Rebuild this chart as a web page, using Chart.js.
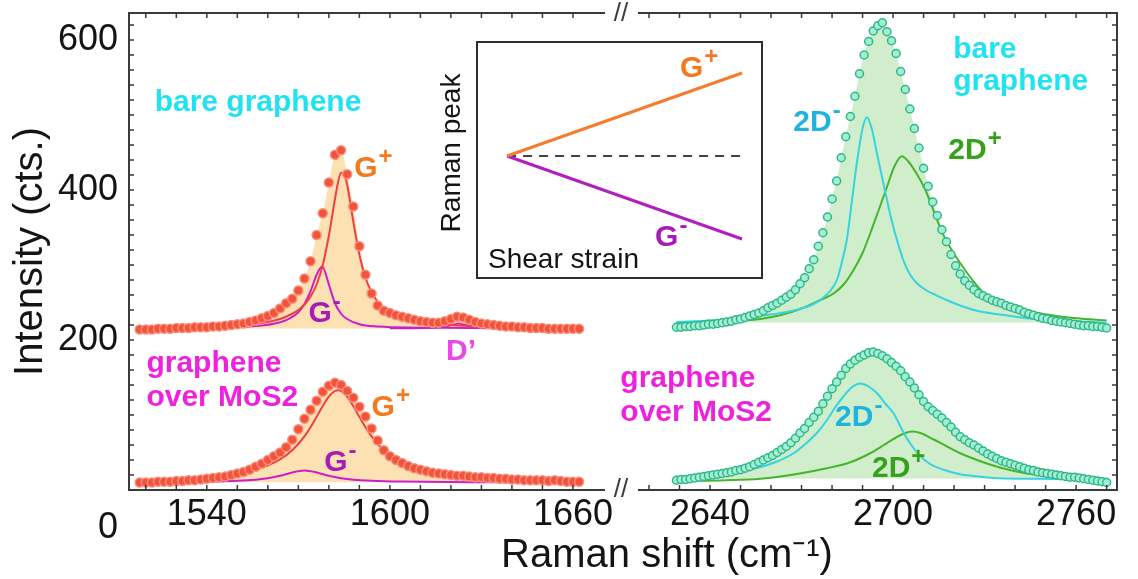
<!DOCTYPE html>
<html>
<head>
<meta charset="utf-8">
<title>Raman G and 2D bands: bare graphene vs graphene over MoS2</title>
<script src="https://cdn.jsdelivr.net/npm/chart.js@4.4.1/dist/chart.umd.min.js"></script>
<style>
  body { margin: 0; background: #fff; }
  #wrap { position: relative; width: 1138px; height: 579px; overflow: hidden; }
  #wrap canvas { position: absolute; }
  #left { left: 0; top: 0; }
  #right { left: 620px; top: 0; }
  #inset { left: 430px; top: 30px; }
</style>
</head>
<body>
<div id="wrap">
  <canvas id="left" width="1138" height="579"></canvas>
  <canvas id="right" width="518" height="579"></canvas>
  <canvas id="inset" width="340" height="262"></canvas>
</div>
<script>
// ---------- data ----------

// G band (left panel), measured points
const leftDotX = [1518,1520,1522,1524,1526,1528,1530,1532,1534,1536,
  1538,1540,1542,1544,1546,1548,1550,1552,1554,1556,
  1558,1560,1562,1564,1566,1568,1570,1572,1574,1576,
  1578,1580,1582,1584,1586,1588,1590,1592,1594,1596,
  1598,1600,1602,1604,1606,1608,1610,1612,1614,1616,
  1618,1620,1622,1624,1626,1628,1630,1632,1634,1636,
  1638,1640,1642,1644,1646,1648,1650,1652,1654,1656,
  1658,1660,1662];
const bareGDots = [214,214,214,215,215,215,216,216,216,217,
  217,217,218,218,219,220,221,222,224,226,
  229,232,236,242,249,255,266,282,305,340,
  369,410,447,453,421,378,325,287,262,246,
  239,236,233,231,229,227,225,224,223,223,
  225,228,231,230,227,224,222,221,220,219,
  218,218,217,217,216,216,216,215,215,215,
  215,215,215];
const mosGDots = [10,10,10,11,11,11,12,12,13,13,
  14,15,16,17,18,20,22,24,27,31,
  35,40,45,50,57,67,81,95,107,119,
  131,139,143,140,132,123,111,98,82,66,
  53,45,40,36,32,29,27,25,23,22,
  21,20,19,19,18,17,17,16,16,15,
  15,14,14,13,13,13,13,12,13,12,
  11,11,11];

// G band fit components
const bareGPlusX = [1518,1530,1540,1550,1556,1560,1564,1568,1570,1572,1574,1576,1578,1580,1582,1583,1584,1585,1586,1588,1590,1592,1594,1596,1600,1604,1610,1620,1630,1640,1662];
const bareGPlusY = [216,217,218,220,222,224,228,235,240,247,258,274,300,339,388,410,423,421,407,358,314,283,264,251,237,229,224,220,218,217,216];
const bareGMinusX = [1518,1540,1556,1562,1566,1570,1572,1574,1576,1577.8,1580,1582,1584,1586,1590,1596,1610,1640,1662];
const bareGMinusY = [215.5,216.3,218.7,221.7,226.4,237,248,265,287,298,274,249,235,228,221,218,216.5,215.5,215.3];
const bareDPrimeX = [1600,1610,1616,1619,1621,1622.5,1624,1626,1629,1635,1645];
const bareDPrimeY = [215.5,216,217,218.7,220.6,222,220.6,218.7,217,216,215.5];
const mosGPlusX = [1518,1530,1540,1550,1556,1560,1564,1568,1572,1575,1578,1580,1582,1583,1584,1586,1588,1591,1594,1598,1602,1606,1610,1616,1626,1636,1648,1662];
const mosGPlusY = [13.4,15.1,17.5,22.3,27.5,32.9,40.9,53,71.5,90.4,111.9,124.5,132,133,132,124.5,111.9,90.4,71.5,53,40.9,32.9,27.5,22.3,17.5,15.1,13.4,12.3];
const mosGMinusX = [1518,1540,1550,1556,1560,1564,1568,1572,1576,1580,1584,1588,1594,1604,1626,1662];
const mosGMinusY = [10.4,11.2,12.3,13.8,15.8,18.9,23.4,26,23.4,18.9,15.8,13.8,12.3,11.2,10.4,10.2];

// 2D band (right panel), measured points
const rightDotX = [2629,2630.5,2632,2633.5,2635,2636.5,2638,2639.5,2641,2642.5,
  2644,2645.5,2647,2648.5,2650,2651.5,2653,2654.5,2656,2657.5,
  2659,2660.5,2662,2663.5,2665,2666.5,2668,2669.5,2671,2672.5,
  2674,2675.5,2677,2678.5,2680,2681.5,2683,2684.5,2686,2687.5,
  2689,2690.5,2692,2693.5,2695,2696.5,2698,2699.5,2701,2702.5,
  2704,2705.5,2707,2708.5,2710,2711.5,2713,2714.5,2716,2717.5,
  2719,2720.5,2722,2723.5,2725,2726.5,2728,2729.5,2731,2732.5,
  2734,2735.5,2737,2738.5,2740,2741.5,2743,2744.5,2746,2747.5,
  2749,2750.5,2752,2753.5,2755,2756.5,2758,2759.5,2761,2762.5,
  2764,2765.5,2767,2768.5,2770];
const bare2DDots = [217,217,218,218,219,219,220,221,221,222,
  223,224,225,227,228,230,232,234,236,239,
  243,246,249,253,257,261,267,275,283,295,
  307,325,343,364,388,412,443,471,498,525,
  555,580,598,612,619,623,611,599,582,558,
  534,508,482,456,429,405,384,366,347,331,
  314,299,288,279,273,267,262,259,256,253,
  251,249,246,244,242,240,237,235,233,231,
  229,228,226,225,224,223,222,221,220,219,
  219,218,218,217,216];
const mos2DDots = [13,14,14,15,16,17,18,19,20,21,
  22,23,24,26,27,29,31,34,37,40,
  43,46,50,54,58,63,69,76,82,90,
  97,105,115,125,135,144,153,162,168,173,
  177,180,183,184,182,179,175,170,165,159,
  151,144,136,127,118,111,106,101,96,90,
  84,77,71,67,63,60,56,52,48,45,
  42,39,37,35,33,31,29,27,26,24,
  23,22,21,20,19,18,17,17,16,15,
  14,13,12,11,10];

// 2D band fit components
const bare2DMinusX = [2629,2640,2650,2660,2666,2670,2674,2677,2679.5,2681.6,2683,2684.9,2686.5,2688.2,2690,2691.4,2693,2694.7,2696.5,2698,2699.5,2701.3,2703.5,2705.6,2708,2711,2714,2717.7,2722,2727.5,2735,2743.9,2755,2770];
const bare2DMinusY = [224,226,229,234,238,242,248,256,266,280,300,335,385,438,482,497,482,449,415,387,360,333,305,287,275,266,260,253,246,239,234,229,226,223];
const bare2DPlusX = [2629,2640,2650,2656.5,2663,2670,2676,2680.5,2684,2687,2690,2692.5,2695,2698,2700.5,2702.9,2705,2708,2710.6,2713.5,2716.3,2719.5,2722.8,2726,2729.4,2733,2738,2745,2752,2760,2770];
const bare2DPlusY = [223,224,226,228,233,242,253,262,275,293,316,342,370,404,432,445,438,420,400,370,342,318,298,280,264,254,246,238,233,229,226];
const mos2DMinusX = [2629,2640,2650,2656,2662,2667.4,2672,2675,2678.3,2681,2684,2686.5,2689.2,2692,2695,2697.5,2700.2,2703,2705.6,2709,2712,2716.5,2722,2728,2733,2745,2770];
const mos2DMinusY = [17,20,25,30,38,49,64,76,93,110,126,137,142,138,128,115,102,80,62,45,35,27,21,18,16,15,14];
const mos2DPlusX = [2629,2645,2656.5,2668,2678.3,2686,2692.5,2697,2701,2704,2706.2,2709,2713,2717.7,2722,2727.5,2735,2743.9,2752,2765,2770];
const mos2DPlusY = [12,13,15,21,29,37,49,60,70,76,78,76,68,58,49,40,30,22,19,16,15];

// inset: peak position vs shear strain (schematic)
const insetStrain = [0, 1];
const insetGPlus = [0, 1];
const insetGMinus = [0, -1];
const insetRefStrain = [0, 1.017];
const insetRef = [0, 0];

// axis labels
const xLeftLabels = [1540, 1600, 1660];
const xRightLabels = [2640, 2700, 2760];
const yLabels = [200, 400, 600];
const yMinorStep = 20;

// ---------- style ----------
const FONT = '"Liberation Sans", Arial, Helvetica, sans-serif';
const AXIS = '#3a3a3a';
const TEXT = '#141414';
const RED_DOT = '#f4533b', RED_EDGE = '#f88f7c';
const MINT_DOT = '#a6eed2', MINT_EDGE = '#2db88c';
const RED_LINE = '#ee4040', MAG_LINE = '#c91fcc';
const CYAN_LINE = '#38d3e0', GREEN_LINE = '#44b52c';
const ORANGE_FILL = '#fde1b3', GREEN_FILL = '#d0eecb';
const CYAN_TXT = '#21e2f0', MAGENTA_TXT = '#ee22dd', ORANGE_TXT = '#f5791f';
const PURPLE_TXT = '#a51db5', PINK_TXT = '#e94ae6', BLUE_TXT = '#1fb4de', GREEN_TXT = '#36a11a';

// labels placed in data coordinates of each panel
const leftNotes = [
  { text: 'bare graphene', x: 1522.9, y: 516, color: CYAN_TXT },
  { text: 'G', sup: '+', x: 1588.3, y: 429, color: ORANGE_TXT },
  { text: 'G', sup: '-', x: 1573.3, y: 235, color: PURPLE_TXT },
  { text: 'D\u2019', x: 1618.4, y: 184, color: PINK_TXT },
  { text: 'graphene', x: 1520.2, y: 169, color: MAGENTA_TXT },
  { text: 'over MoS2', x: 1520.2, y: 123, color: MAGENTA_TXT },
  { text: 'G', sup: '+', x: 1594, y: 110, color: ORANGE_TXT },
  { text: 'G', sup: '-', x: 1578.5, y: 37, color: PURPLE_TXT }
];
const rightNotes = [
  { text: 'bare', x: 2719.7, y: 587, color: CYAN_TXT },
  { text: 'graphene', x: 2719.7, y: 545, color: CYAN_TXT },
  { text: '2D', sup: '-', x: 2667.3, y: 490, color: BLUE_TXT },
  { text: '2D', sup: '+', x: 2718.1, y: 453, color: GREEN_TXT },
  { text: 'graphene', x: 2610.6, y: 149, color: MAGENTA_TXT },
  { text: 'over MoS2', x: 2610.6, y: 103, color: MAGENTA_TXT },
  { text: '2D', sup: '-', x: 2681, y: 97, color: BLUE_TXT },
  { text: '2D', sup: '+', x: 2693.1, y: 29, color: GREEN_TXT }
];
const insetNotes = [
  { text: 'G', sup: '+', x: 0.736, y: 1.05, color: ORANGE_TXT },
  { text: 'G', sup: '-', x: 0.63, y: -0.98, color: PURPLE_TXT }
];

// ---------- helpers ----------
function pts(xs, ys) { return xs.map((x, i) => ({ x: x, y: ys[i] })); }

function dotSet(xs, ys, face, edge, r) {
  return { data: pts(xs, ys), showLine: false, pointRadius: r, pointHoverRadius: r,
    pointBackgroundColor: face, pointBorderColor: edge, pointBorderWidth: 1.5, order: 0 };
}
function lineSet(xs, ys, color) {
  return { data: pts(xs, ys), borderColor: color, borderWidth: 2, pointRadius: 0,
    cubicInterpolationMode: 'monotone', fill: false, order: 1 };
}
function areaSet(xs, ys, base, color) {
  return { data: pts(xs, ys), borderWidth: 0, borderColor: 'rgba(0,0,0,0)', pointRadius: 0,
    cubicInterpolationMode: 'monotone',
    fill: { target: { value: base }, above: color, below: 'rgba(0,0,0,0)' }, order: 2 };
}

function drawNote(ctx, px, py, n) {
  ctx.fillStyle = n.color;
  ctx.font = 'bold 30px ' + FONT;
  ctx.textAlign = 'left';
  ctx.textBaseline = 'middle';
  ctx.fillText(n.text, px, py);
  if (n.sup) {
    const w = ctx.measureText(n.text).width;
    ctx.font = 'bold 24px ' + FONT;
    ctx.fillText(n.sup, px + w + 1, py - 11);
  }
}

function seg(ctx, x1, y1, x2, y2) {
  ctx.beginPath(); ctx.moveTo(x1, y1); ctx.lineTo(x2, y2); ctx.stroke();
}

function xTickMarks(ctx, a, sx) {
  sx.ticks.forEach(t => {
    const p = sx.getPixelForValue(t.value);
    if (p < a.left + 4 || p > a.right - 4) return;
    seg(ctx, p, a.bottom, p, a.bottom - 5);
    seg(ctx, p, a.top, p, a.top + 5);
  });
}
function yTickMarks(ctx, a, sy, x0, dir) {
  for (let v = yMinorStep; v < sy.max; v += yMinorStep) {
    const p = sy.getPixelForValue(v);
    if (p < a.top + 4) continue;
    seg(ctx, x0, p, x0 + dir * 5, p);
  }
}

const common = {
  responsive: false,
  animation: false,
  events: [],
  plugins: { legend: { display: false }, tooltip: { enabled: false } }
};

function xAxis(min, max, labels) {
  return {
    type: 'linear', min: min, max: max,
    grid: { display: false, drawTicks: false },
    border: { display: false },
    ticks: {
      stepSize: 10, autoSkip: false, maxRotation: 0, includeBounds: false, padding: 3,
      color: TEXT, font: { family: FONT, size: 36 },
      callback: v => labels.includes(v) ? String(v) : ''
    },
    afterFit: s => { s.height = 89; s.paddingLeft = 0; s.paddingRight = 0; }
  };
}

// ---------- left panel (G band) ----------
const leftFrame = {
  id: 'leftFrame',
  afterDraw(chart) {
    const { ctx, chartArea: a, scales: { x, y } } = chart;
    ctx.save();
    ctx.strokeStyle = AXIS;
    ctx.lineWidth = 2;
    ctx.beginPath();
    ctx.moveTo(a.right, a.top); ctx.lineTo(a.left, a.top);
    ctx.lineTo(a.left, a.bottom); ctx.lineTo(a.right, a.bottom);
    ctx.stroke();
    ctx.lineWidth = 1.5;
    xTickMarks(ctx, a, x);
    yTickMarks(ctx, a, y, a.left, 1);

    // axis break marks
    ctx.fillStyle = AXIS;
    ctx.font = '26px ' + FONT;
    ctx.textAlign = 'center';
    ctx.textBaseline = 'middle';
    ctx.fillText('//', a.right + 16, a.bottom);
    ctx.fillText('//', a.right + 16, a.top + 1);

    // the zero label sits below the axis in the original
    ctx.fillStyle = TEXT;
    ctx.font = '36px ' + FONT;
    ctx.textAlign = 'right';
    ctx.fillText('0', a.left - 11, a.bottom + 38);

    // shared x title for both panels
    ctx.font = '40px ' + FONT;
    ctx.textAlign = 'center';
    ctx.textBaseline = 'alphabetic';
    ctx.fillText('Raman shift (cm\u207B\u00B9)', 667, 567);

    leftNotes.forEach(n => drawNote(ctx, x.getPixelForValue(n.x), y.getPixelForValue(n.y), n));
    ctx.restore();
  }
};

new Chart(document.getElementById('left'), {
  type: 'line',
  data: {
    datasets: [
      dotSet(leftDotX, bareGDots, RED_DOT, RED_EDGE, 4.5),
      dotSet(leftDotX, mosGDots, RED_DOT, RED_EDGE, 4.5),
      lineSet(bareGPlusX, bareGPlusY, RED_LINE),
      lineSet(bareGMinusX, bareGMinusY, MAG_LINE),
      lineSet(bareDPrimeX, bareDPrimeY, MAG_LINE),
      lineSet(mosGPlusX, mosGPlusY, RED_LINE),
      lineSet(mosGMinusX, mosGMinusY, MAG_LINE),
      areaSet(leftDotX, bareGDots, 215, ORANGE_FILL),
      areaSet(leftDotX, mosGDots, 10, ORANGE_FILL)
    ]
  },
  options: Object.assign({}, common, {
    layout: { autoPadding: false, padding: { left: 0, top: 13, right: 533, bottom: 0 } },
    scales: {
      x: xAxis(1514.5, 1670.5, xLeftLabels),
      y: {
        type: 'linear', min: 0, max: 636,
        grid: { display: false, drawTicks: false },
        border: { display: false },
        ticks: {
          stepSize: yMinorStep, autoSkip: false, includeBounds: false, padding: 11,
          color: TEXT, font: { family: FONT, size: 36 },
          callback: v => yLabels.includes(v) ? String(v) : ''
        },
        title: {
          display: true, text: 'Intensity (cts.)', color: TEXT,
          font: { family: FONT, size: 40 }, padding: { top: 7, bottom: 0 }
        },
        afterFit: s => { s.width = 129; s.paddingTop = 0; s.paddingBottom = 0; }
      }
    }
  }),
  plugins: [leftFrame]
});

// ---------- right panel (2D band) ----------
const rightFrame = {
  id: 'rightFrame',
  afterDraw(chart) {
    const { ctx, chartArea: a, scales: { x, y } } = chart;
    ctx.save();
    ctx.strokeStyle = AXIS;
    ctx.lineWidth = 2;
    ctx.beginPath();
    ctx.moveTo(a.left, a.top); ctx.lineTo(a.right, a.top);
    ctx.lineTo(a.right, a.bottom); ctx.lineTo(a.left, a.bottom);
    ctx.stroke();
    ctx.lineWidth = 1.5;
    xTickMarks(ctx, a, x);
    yTickMarks(ctx, a, y, a.right, -1);
    rightNotes.forEach(n => drawNote(ctx, x.getPixelForValue(n.x), y.getPixelForValue(n.y), n));
    ctx.restore();
  }
};

new Chart(document.getElementById('right'), {
  type: 'line',
  data: {
    datasets: [
      dotSet(rightDotX, bare2DDots, MINT_DOT, MINT_EDGE, 4),
      dotSet(rightDotX, mos2DDots, MINT_DOT, MINT_EDGE, 4),
      lineSet(bare2DMinusX, bare2DMinusY, CYAN_LINE),
      lineSet(bare2DPlusX, bare2DPlusY, GREEN_LINE),
      lineSet(mos2DMinusX, mos2DMinusY, CYAN_LINE),
      lineSet(mos2DPlusX, mos2DPlusY, GREEN_LINE),
      areaSet(rightDotX, bare2DDots, 223, GREEN_FILL),
      areaSet(rightDotX, mos2DDots, 15, GREEN_FILL)
    ]
  },
  options: Object.assign({}, common, {
    layout: { autoPadding: false, padding: { left: 18, top: 13, right: 21, bottom: 0 } },
    scales: {
      x: xAxis(2616.4, 2773.4, xRightLabels),
      y: { type: 'linear', display: false, min: 0, max: 636 }
    }
  }),
  plugins: [rightFrame]
});

// ---------- inset ----------
const insetFrame = {
  id: 'insetFrame',
  beforeDatasetsDraw(chart) {
    const { ctx, chartArea: a } = chart;
    ctx.save();
    ctx.fillStyle = '#fff';
    ctx.fillRect(a.left, a.top, a.right - a.left, a.bottom - a.top);
    ctx.restore();
  },
  afterDraw(chart) {
    const { ctx, chartArea: a, scales: { x, y } } = chart;
    ctx.save();
    ctx.strokeStyle = '#2e2e2e';
    ctx.lineWidth = 2;
    ctx.strokeRect(a.left, a.top, a.right - a.left, a.bottom - a.top);
    ctx.fillStyle = TEXT;
    ctx.font = '28px ' + FONT;
    ctx.textAlign = 'left';
    ctx.textBaseline = 'middle';
    ctx.fillText('Shear strain', a.left + 11, a.bottom - 18);
    ctx.save();
    ctx.translate(a.left - 25, (a.top + a.bottom) / 2 - 7);
    ctx.rotate(-Math.PI / 2);
    ctx.textAlign = 'center';
    ctx.fillText('Raman peak', 0, 0);
    ctx.restore();
    insetNotes.forEach(n => drawNote(ctx, x.getPixelForValue(n.x), y.getPixelForValue(n.y), n));
    ctx.restore();
  }
};

new Chart(document.getElementById('inset'), {
  type: 'line',
  data: {
    datasets: [
      { data: pts(insetStrain, insetGPlus), borderColor: '#f47c2c', borderWidth: 3, pointRadius: 0 },
      { data: pts(insetStrain, insetGMinus), borderColor: '#b020c0', borderWidth: 3, pointRadius: 0 },
      { data: pts(insetRefStrain, insetRef), borderColor: '#444', borderWidth: 2, borderDash: [9, 7], pointRadius: 0 }
    ]
  },
  options: Object.assign({}, common, {
    layout: { autoPadding: false, padding: { left: 47, top: 12, right: 8, bottom: 14 } },
    scales: {
      x: { type: 'linear', display: false, min: -0.128, max: 1.085 },
      y: { type: 'linear', display: false, min: -1.47, max: 1.373 }
    }
  }),
  plugins: [insetFrame]
});
</script>
</body>
</html>
